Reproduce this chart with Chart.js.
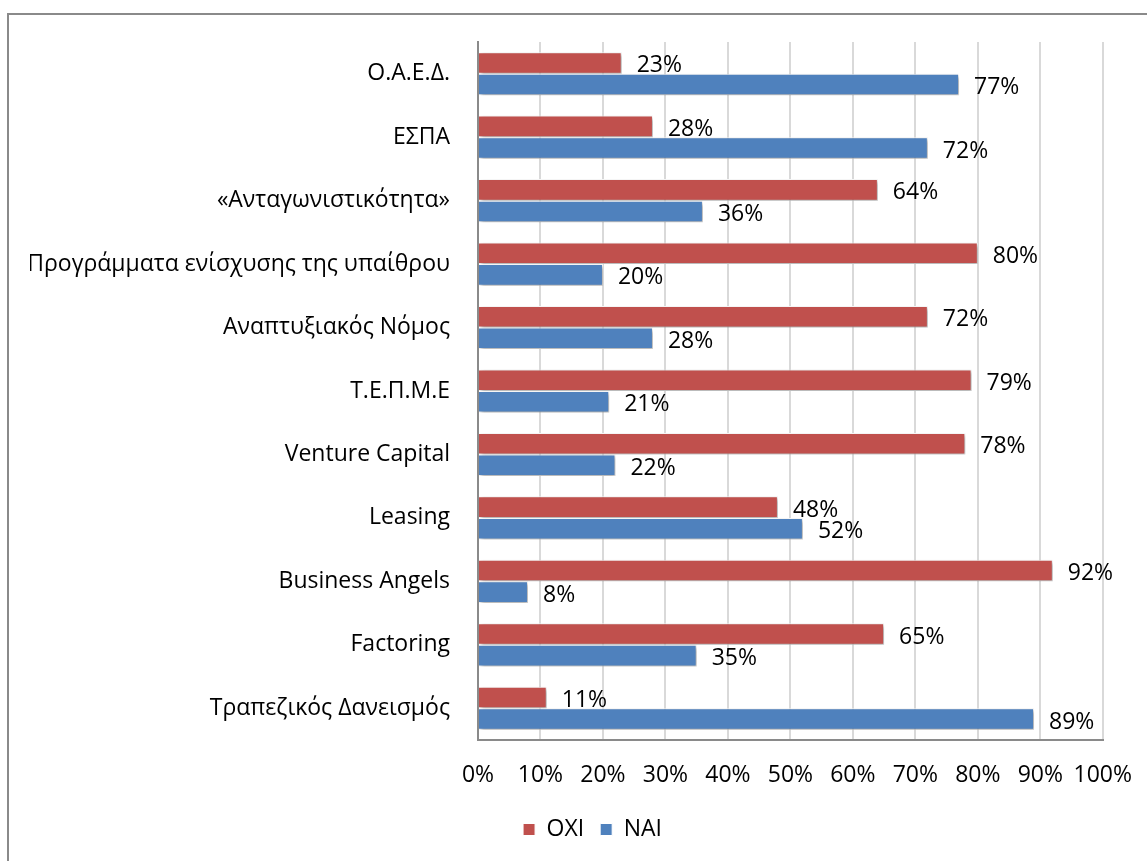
<!DOCTYPE html>
<html>
<head>
<meta charset="utf-8">
<script src="https://cdn.jsdelivr.net/npm/chart.js@4"></script>
<style>
  html, body { margin: 0; padding: 0; background: #fff; overflow: hidden; }
  #frame {
    position: absolute; left: 7px; top: 13px; width: 1200px; height: 900px;
    border-left: 2px solid #8a8a8a; border-top: 2px solid #8a8a8a;
  }
  #wrap { position: absolute; left: 30px; top: 0; width: 1124px; height: 861px; }
</style>
</head>
<body>
<div id="frame"></div>
<div id="wrap"><canvas id="chart"></canvas></div>
<script>
const categories = [
  "Ο.Α.Ε.Δ.",
  "ΕΣΠΑ",
  "«Ανταγωνιστικότητα»",
  "Προγράμματα ενίσχυσης της υπαίθρου",
  "Αναπτυξιακός Νόμος",
  "Τ.Ε.Π.Μ.Ε",
  "Venture Capital",
  "Leasing",
  "Business Angels",
  "Factoring",
  "Τραπεζικός Δανεισμός"
];
const oxiValues = [23, 28, 64, 80, 72, 79, 78, 48, 92, 65, 11];
const naiValues = [77, 72, 36, 20, 28, 21, 22, 52, 8, 35, 89];
const xTicks = [0, 10, 20, 30, 40, 50, 60, 70, 80, 90, 100];

const FONT = "'Open Sans', 'Noto Sans', sans-serif";
const SIZE = 23;

// soft drop shadow under the bars
const barShadow = {
  id: "barShadow",
  beforeDatasetsDraw(chart) {
    const ctx = chart.ctx;
    ctx.save();
    ctx.shadowColor = "rgba(0,0,0,0.35)";
    ctx.shadowBlur = 4;
    ctx.shadowOffsetX = 2;
    ctx.shadowOffsetY = 2;
  },
  afterDatasetsDraw(chart) {
    chart.ctx.restore();
  }
};

// percentage text to the right of each bar
const valueLabels = {
  id: "valueLabels",
  afterDatasetsDraw(chart) {
    const ctx = chart.ctx;
    ctx.save();
    ctx.font = SIZE + "px " + FONT;
    ctx.fillStyle = "#000";
    ctx.textAlign = "left";
    ctx.textBaseline = "middle";
    chart.data.datasets.forEach((ds, i) => {
      chart.getDatasetMeta(i).data.forEach((bar, j) => {
        ctx.fillText(ds.data[j] + "%", bar.x + 15, bar.y + 3);
      });
    });
    ctx.restore();
  }
};

// nudge the legend a little to the right of the canvas centre
const legendShift = {
  id: "legendShift",
  afterLayout(chart) {
    chart.legend.left += 22;
    chart.legend.right += 22;
  }
};

new Chart(document.getElementById("chart"), {
  type: "bar",
  plugins: [barShadow, valueLabels, legendShift],
  data: {
    labels: categories,
    datasets: [
      {
        label: "OXI",
        data: oxiValues,
        backgroundColor: "#C0504D",
        borderColor: "#ffffff",
        borderWidth: 1,
        categoryPercentage: 0.68,
        barPercentage: 1.0
      },
      {
        label: "NAI",
        data: naiValues,
        backgroundColor: "#4F81BD",
        borderColor: "#ffffff",
        borderWidth: 1,
        categoryPercentage: 0.68,
        barPercentage: 1.0
      }
    ]
  },
  options: {
    indexAxis: "y",
    responsive: true,
    maintainAspectRatio: false,
    animation: false,
    layout: { padding: { top: 42, right: 43, bottom: 10, left: 0 } },
    scales: {
      x: {
        min: 0,
        max: 100,
        afterBuildTicks: (scale) => { scale.ticks = xTicks.map(v => ({ value: v })); },
        afterFit: (scale) => { scale.height = 62; },
        grid: { color: "#d9d9d9", lineWidth: 2, drawTicks: false },
        border: { color: "#8a8a8a", width: 2 },
        ticks: {
          padding: 22,
          maxRotation: 0,
          minRotation: 0,
          autoSkip: false,
          color: "#000",
          font: { family: FONT, size: SIZE },
          callback: (v) => v + "%"
        }
      },
      y: {
        afterFit: (scale) => { scale.width = 448; },
        grid: { display: false, drawTicks: false },
        border: { color: "#8a8a8a", width: 2 },
        ticks: {
          padding: 28,
          color: "#000",
          font: { family: FONT, size: SIZE }
        }
      }
    },
    plugins: {
      tooltip: { enabled: false },
      legend: {
        position: "bottom",
        labels: {
          boxWidth: 12,
          boxHeight: 12,
          padding: 16,
          color: "#000",
          font: { family: FONT, size: SIZE }
        }
      }
    }
  }
});
</script>
</body>
</html>
